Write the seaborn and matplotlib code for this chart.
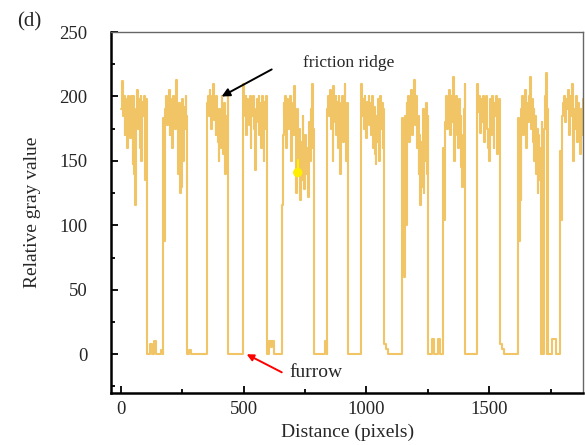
import numpy as np
import pandas as pd
import matplotlib
matplotlib.use("Agg")
import matplotlib.pyplot as plt
from matplotlib.ticker import MultipleLocator
import seaborn as sns

# ---- data ----
# ridge (high) segments: start, end (pixels) and sampled gray values
ridge_starts = [0, 171, 349, 498, 655, 838, 977, 1144, 1313, 1449, 1618, 1789]
ridge_ends = [105, 270, 437, 594, 784, 926, 1069, 1252, 1402, 1544, 1740, 1900]

ridge1 = [190, 212, 185, 200, 170, 198, 195, 160, 200, 192, 168, 200, 180, 148, 200,
          140, 116, 190, 205, 175, 198, 160, 200, 150, 196, 185, 200, 135, 198, 190]
ridge2 = [183, 88, 165, 190, 200, 178, 196, 205, 170, 198, 185, 160, 200, 190, 175,
          200, 213, 185, 140, 195, 125, 180, 130, 198, 150, 192, 175, 200, 185, 170]
ridge3 = [160, 195, 200, 185, 205, 198, 175, 200, 190, 210, 182, 196, 170, 200, 188,
          165, 150, 190, 175, 160, 200, 180, 155, 195, 170, 140, 185, 160, 205, 200]
ridge4 = [210, 195, 185, 200, 170, 198, 192, 178, 200, 160, 195, 185, 200, 175, 165,
          143, 190, 198, 180, 200, 170, 195, 160, 200, 185, 150, 196, 175, 200, 190]
ridge5 = [116, 170, 195, 185, 200, 160, 198, 175, 190, 200, 150, 185, 195, 170, 208,
          180, 125, 190, 140, 175, 120, 165, 135, 185, 150, 128, 170, 140, 160, 122,
          180, 150, 190, 210, 160, 175]
ridge6 = [158, 190, 200, 185, 195, 205, 175, 198, 150, 208, 190, 180, 200, 170, 196,
          160, 200, 185, 140, 195, 175, 200, 165, 190, 210, 180, 150, 195, 170, 185]
ridge7 = [210, 200, 185, 198, 175, 200, 190, 168, 196, 185, 200, 178, 195, 170, 200,
          188, 160, 192, 155, 148, 185, 165, 198, 150, 190, 200, 175, 195, 160, 190]
ridge8 = [183, 90, 178, 60, 185, 100, 195, 175, 200, 165, 198, 185, 205, 170, 195,
          213, 190, 178, 200, 160, 185, 140, 170, 116, 165, 130, 190, 125, 175, 150,
          195, 140, 185, 170]
ridge9 = [160, 104, 180, 195, 200, 175, 198, 185, 205, 170, 200, 190, 180, 215, 150,
          195, 185, 200, 170, 190, 160, 198, 175, 185, 145, 130, 170, 150, 190, 210]
ridge10 = [210, 195, 188, 200, 172, 198, 190, 180, 200, 165, 196, 185, 200, 175, 160,
           150, 190, 198, 170, 200, 180, 160, 195, 185, 200, 155, 190, 175, 198, 185]
ridge11 = [183, 88, 175, 120, 190, 200, 170, 198, 185, 205, 160, 195, 180, 200, 190,
           215, 175, 198, 165, 190, 150, 185, 140, 175, 125, 170, 135, 160, 0, 180,
           150, 0, 175, 200, 218, 0, 190, 140]
ridge12 = [158, 104, 185, 195, 200, 180, 198, 190, 205, 170, 200, 185, 195, 210, 150,
           190, 175, 200, 165, 195, 180, 155, 190, 170, 198, 140, 185, 160, 175, 135]
ridges = [ridge1, ridge2, ridge3, ridge4, ridge5, ridge6, ridge7, ridge8, ridge9,
          ridge10, ridge11, ridge12]

# furrow (low) segments between ridges
furrow1 = [0, 0, 8, 0, 10, 0, 0, 0, 3, 0]
furrow2 = [0, 3, 0, 0, 0, 0, 0, 0, 0, 0, 28]
furrow3 = [0, 0, 0, 0, 0, 0, 0, 0]
furrow4 = [0, 10, 6, 10, 0, 0, 0, 0, 0]
furrow5 = [0, 0, 0, 0, 0, 0, 0, 10, 0]
furrow6 = [0, 0, 0, 0, 0, 0, 0]
furrow7 = [8, 4, 0, 0, 0, 0, 0, 0, 0, 0]
furrow8 = [0, 0, 12, 0, 0, 12, 0, 0, 0]
furrow9 = [0, 0, 0, 0, 0, 0, 0]
furrow10 = [8, 4, 0, 0, 0, 0, 0, 0, 0, 0]
furrow11 = [0, 0, 12, 12, 0, 0, 0]
furrows = [furrow1, furrow2, furrow3, furrow4, furrow5, furrow6, furrow7, furrow8,
           furrow9, furrow10, furrow11]

mark_x = [720]
mark_y = [141]

# ---- build the profile ----
xs, ys = [], []
for i, r in enumerate(ridges):
    s, e = ridge_starts[i], ridge_ends[i]
    xs.extend(np.linspace(s, e, len(r)))
    ys.extend(r)
    if i < len(furrows):
        f = furrows[i]
        xs.extend(np.linspace(e + 0.5, ridge_starts[i + 1] - 0.5, len(f)))
        ys.extend(f)
df = pd.DataFrame({"Distance": xs, "Gray": ys})

sns.set_style("ticks")
plt.rcParams["font.family"] = ["Liberation Serif", "DejaVu Serif"]

fig = plt.figure(figsize=(5.85, 4.45), dpi=100)
ax = fig.add_axes([0.190, 0.117, 0.807, 0.811])

line_color = "#F1C566"
sns.lineplot(data=df, x="Distance", y="Gray", ax=ax, sort=False, estimator=None,
             color=line_color, linewidth=1.5, drawstyle="steps-post")
ax.plot([mark_x[0], mark_x[0]], [mark_y[0], mark_y[0] + 10], color="#FFEE00", lw=1.5)
sns.scatterplot(x=mark_x, y=mark_y, ax=ax, color="#FFEE00", s=45, edgecolor="none",
                zorder=5)

ax.set_xlim(-40, 1883)
ax.set_ylim(-30, 250)
ax.xaxis.set_major_locator(MultipleLocator(500))
ax.xaxis.set_minor_locator(MultipleLocator(250))
ax.yaxis.set_major_locator(MultipleLocator(50))
ax.yaxis.set_minor_locator(MultipleLocator(25))
ax.tick_params(which="both", direction="in", labelsize=13.5, width=1.3, color="black")
ax.tick_params(which="major", length=5)
ax.tick_params(which="minor", length=3)
ax.tick_params(axis="y", pad=17)
ax.tick_params(axis="x", pad=6)

for side in ["left", "bottom"]:
    ax.spines[side].set_linewidth(1.8)
    ax.spines[side].set_color("black")
for side in ["top", "right"]:
    ax.spines[side].set_visible(True)
    ax.spines[side].set_linewidth(1.0)
    ax.spines[side].set_color("#666666")

ax.set_xlabel("Distance (pixels)", fontsize=14, labelpad=4)
ax.set_ylabel("Relative gray value", fontsize=14, labelpad=13)

ax.text(742, 226, "friction ridge", fontsize=12.5, ha="left", va="center")
ax.annotate("", xy=(410, 200), xytext=(614, 221),
            arrowprops=dict(arrowstyle="-|>", color="black", lw=1.4,
                            mutation_scale=12, shrinkA=0, shrinkB=0))
ax.text(685, -14, "furrow", fontsize=14, ha="left", va="center")
ax.annotate("", xy=(512, 0), xytext=(655, -14),
            arrowprops=dict(arrowstyle="-|>", color="red", lw=1.4,
                            mutation_scale=10, shrinkA=0, shrinkB=0))

fig.text(0.03, 0.95, "(d)", fontsize=15, ha="left", va="center")

fig.savefig("out.png", dpi=100)
